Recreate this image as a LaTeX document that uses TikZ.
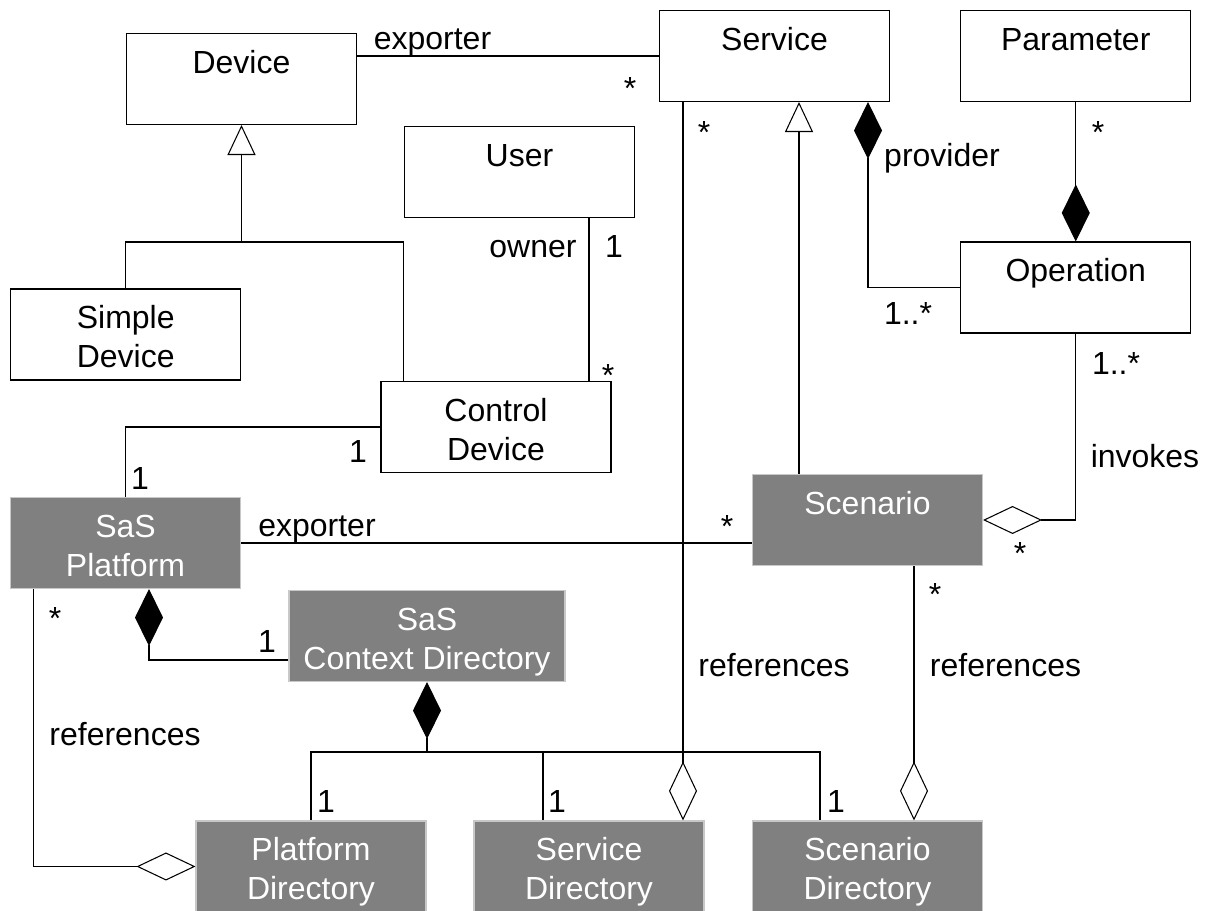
\documentclass[tikz,border=0pt]{standalone}
\usepackage{fontspec}
\setmainfont{Liberation Sans}
\usepackage{tikz}
\usetikzlibrary{arrows.meta}
\definecolor{SaSGray}{RGB}{128,128,128}
\definecolor{SaSEdge}{RGB}{200,200,200}

\begin{document}
\begin{tikzpicture}[
    font=\fontsize{18.2}{22.2}\selectfont,
    line width=0.6pt,
    box/.style={rectangle, draw, minimum width=4.6cm, minimum height=1.82cm,
                align=center, inner sep=0pt, text height=1.34cm, text depth=0pt},
    sasbox/.style={box, draw=SaSEdge, fill=SaSGray, text=white},
    lbl/.style={anchor=base, inner sep=0pt},
    comp/.style={-{Diamond[length=1.14cm, width=0.56cm]}},
    aggr/.style={-{Diamond[open, length=1.18cm, width=0.56cm]}},
    gen/.style={-{Triangle[open, length=0.6cm, width=0.56cm]}}
  ]
  \useasboundingbox (0,0) rectangle (24.22,18.22);

  % Devices and users
  \node[box] (dev) at (4.83, 16.64) {Device\\\mbox{}};
  \node[box] (sdev) at (2.515, 11.53) {Simple\\Device};
  \node[box] (cdev) at (9.92, 9.68) {Control\\Device};
  \node[box] (usr) at (10.39, 14.78) {User\\\mbox{}};

  % Services
  \node[box] (srv) at (15.49, 17.10) {Service\\\mbox{}};
  \node[box] (par) at (21.515, 17.10) {Parameter\\\mbox{}};
  \node[box] (op) at (21.515, 12.47) {Operation\\\mbox{}};

  % SaS platform and directories
  \node[sasbox] (plat) at (2.51, 7.36) {SaS\\Platform};
  \node[sasbox] (scn) at (17.35, 7.82) {Scenario\\\mbox{}};
  \node[sasbox, minimum width=5.52cm]
        (ctx) at (8.54, 5.50) {SaS\\Context Directory};
  \node[sasbox] (pdir) at (6.22, 0.89) {Platform\\Directory};
  \node[sasbox] (sdir) at (11.78, 0.89) {Service\\Directory};
  \node[sasbox] (ndir) at (17.35, 0.89) {Scenario\\Directory};

  \coordinate (gjoin) at (4.83, 13.38);
  \coordinate (cjoin) at (8.54, 3.18);

  % Device side
  \draw (srv.west) -- (srv.west -| dev.east);
  \draw[gen] (gjoin) -- (dev.south);
  \draw (sdev.north) |- (gjoin) -| ([xshift=0.46cm]cdev.north west);
  \draw ([xshift=1.39cm]usr.south) -- ([xshift=1.39cm]usr.south |- cdev.north);
  \draw (cdev.west) -| (plat.north);

  % Service side
  \draw[gen] ([xshift=0.49cm]srv.south |- scn.north) -- ([xshift=0.49cm]srv.south);
  \draw[comp] (op.west) -| ([xshift=1.87cm]srv.south);
  \draw[comp] (par.south) -- (op.north);
  \draw[aggr] (op.south) |- (scn.east);

  % Platform and directories
  \draw (plat.east) -- (plat.east -| scn.west);
  \draw[comp] ([yshift=-0.48cm]ctx.west) -| ([xshift=0.47cm]plat.south);
  \draw[comp] (cjoin) -- (ctx.south);
  \draw (pdir.north) |- (cjoin) -| ([xshift=1.36cm]ndir.north west);
  \draw ([xshift=1.39cm]sdir.north west) -- ([xshift=1.39cm]sdir.north west |- cjoin);

  % references
  \draw[aggr] ([xshift=-1.84cm]plat.south) |- (pdir.west);
  \draw[aggr] ([xshift=-1.83cm]srv.south) -- ([xshift=-1.83cm]srv.south |- sdir.north);
  \draw[aggr] ([xshift=0.93cm]scn.south) -- ([xshift=0.93cm]scn.south |- ndir.north);

  % Roles and multiplicities
  \node[lbl] (tExpDev) at (8.65, 17.22) {exporter};
  \node[lbl] (mExpSrv) at (12.60, 16.22) {*};
  \node[lbl] (tOwner) at (10.66, 13.06) {owner};
  \node[lbl] (mOwnUsr) at (12.28, 13.06) {1};
  \node[lbl] (mOwnDev) at (12.16, 10.48) {*};
  \node[lbl] (mCtlDev) at (7.16, 8.96) {1};
  \node[lbl] (mCtlPlat) at (2.80, 8.42) {1};
  \node[lbl] (tExpPlat) at (6.34, 7.48) {exporter};
  \node[lbl] (mExpScn) at (14.54, 7.46) {*};
  \node[lbl] (mCtx) at (5.34, 5.16) {1};
  \node[lbl] (mRefPlat) at (1.10, 5.62) {*};
  \node[lbl] (tRefPlat) at (2.50, 3.30) {references};
  \node[lbl] (mPDir) at (6.52, 1.96) {1};
  \node[lbl] (mSDir) at (11.14, 1.96) {1};
  \node[lbl] (mNDir) at (16.72, 1.96) {1};
  \node[lbl] (mRefSrv) at (14.08, 15.34) {*};
  \node[lbl] (tProv) at (18.84, 14.88) {provider};
  \node[lbl] (mProvOp) at (18.16, 11.72) {1..*};
  \node[lbl] (mPar) at (21.96, 15.34) {*};
  \node[lbl] (mInvOp) at (22.32, 10.72) {1..*};
  \node[lbl] (tInv) at (22.90, 8.86) {invokes};
  \node[lbl] (mInvScn) at (20.40, 6.92) {*};
  \node[lbl] (mRefScn) at (18.70, 6.10) {*};
  \node[lbl] (tRefSrv) at (15.48, 4.68) {references};
  \node[lbl] (tRefScn) at (20.11, 4.68) {references};
\end{tikzpicture}
\end{document}
